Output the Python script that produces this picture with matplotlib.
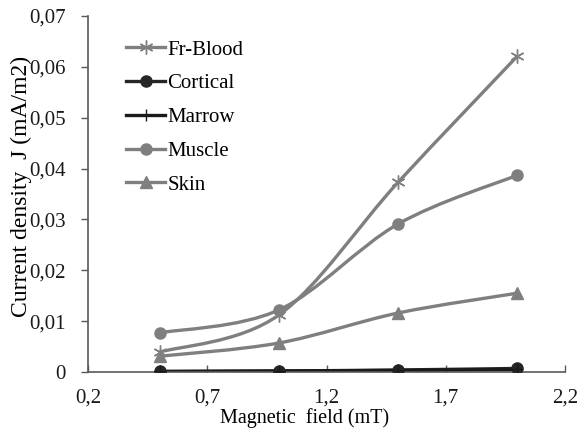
import numpy as np
import matplotlib.pyplot as plt
from matplotlib.path import Path
from matplotlib.patches import PathPatch
from matplotlib.lines import Line2D

plt.rcParams['font.family'] = ['Liberation Serif', 'DejaVu Serif']

# Data
field = [0.5, 1.0, 1.5, 2.0]
fr_blood = [0.0039, 0.0112, 0.0373, 0.0621]
cortical = [0.0001, 0.0002, 0.0004, 0.0007]
marrow = [0.0001, 0.0002, 0.0003, 0.0005]
muscle = [0.0077, 0.0122, 0.0291, 0.0387]
skin = [0.0031, 0.0057, 0.0116, 0.0155]

series = [
    ('Fr-Blood', fr_blood, '#7f7f7f', (6, 2, 0), 10),
    ('Cortical', cortical, '#262626', 'o', 8),
    ('Marrow', marrow, '#1a1a1a', '+', 9),
    ('Muscle', muscle, '#7f7f7f', 'o', 8),
    ('Skin', skin, '#7f7f7f', '^', 8),
]


def smooth_path(x, y, t=1 / 6):
    # Excel-like smoothed line: cubic bezier segments through the points
    x = np.asarray(x, float)
    y = np.asarray(y, float)
    n = len(x)
    verts = [(x[0], y[0])]
    codes = [Path.MOVETO]
    for i in range(n - 1):
        p0 = i - 1 if i > 0 else i
        p3 = i + 2 if i + 2 < n else i + 1
        c1 = (x[i] + (x[i + 1] - x[p0]) * t, y[i] + (y[i + 1] - y[p0]) * t)
        c2 = (x[i + 1] - (x[p3] - x[i]) * t, y[i + 1] - (y[p3] - y[i]) * t)
        verts += [c1, c2, (x[i + 1], y[i + 1])]
        codes += [Path.CURVE4] * 3
    return Path(verts, codes)


fig = plt.figure(figsize=(5.79, 4.32), dpi=100)
ax = fig.add_axes([88 / 579, 60 / 432, 477 / 579, 356 / 432])

handles = []
for name, vals, col, mk, ms in series:
    ax.add_patch(PathPatch(smooth_path(field, vals), facecolor='none',
                           edgecolor=col, lw=2.4, zorder=2))
    mew = 1.0 if mk in ('+', (6, 2, 0)) else 1
    ax.plot(field, vals, linestyle='none', marker=mk, color=col, ms=ms,
            mew=mew, zorder=3)
    handles.append(Line2D([], [], color=col, lw=2.4, marker=mk, ms=ms, mew=mew))

ax.set_xlim(0.2, 2.2)
ax.set_ylim(0, 0.07)
ax.set_xticks(np.arange(0.2, 2.21, 0.5))
ax.set_xticklabels(['0,2', '0,7', '1,2', '1,7', '2,2'])
ax.set_yticks(np.arange(0, 0.0701, 0.01))
ax.set_yticklabels(['0', '0,01', '0,02', '0,03', '0,04', '0,05', '0,06', '0,07'])

for s in ['top', 'right']:
    ax.spines[s].set_visible(False)
for s in ['left', 'bottom']:
    ax.spines[s].set_color('#595959')
    ax.spines[s].set_linewidth(1.2)
ax.tick_params(length=5, width=1, color='#595959',
               labelsize=15, labelcolor='#1a1a1a')
ax.tick_params(axis='y', direction='out', pad=11)
ax.tick_params(axis='x', direction='in', pad=12)

ax.set_xlabel('Magnetic  field (mT)', fontsize=14.5, va='center')
ax.set_ylabel('Current density  J (mA/m2)', fontsize=17, va='center')
ax.xaxis.set_label_coords(0.455, -0.128)
ax.yaxis.set_label_coords(-0.140, 0.52)

ax.legend(handles, [s[0] for s in series], loc='upper left',
          bbox_to_anchor=(0.04, 0.985), frameon=False, fontsize=15,
          handlelength=1.9, handletextpad=0.1, labelspacing=0.68)

fig.savefig('out.png', dpi=100)
